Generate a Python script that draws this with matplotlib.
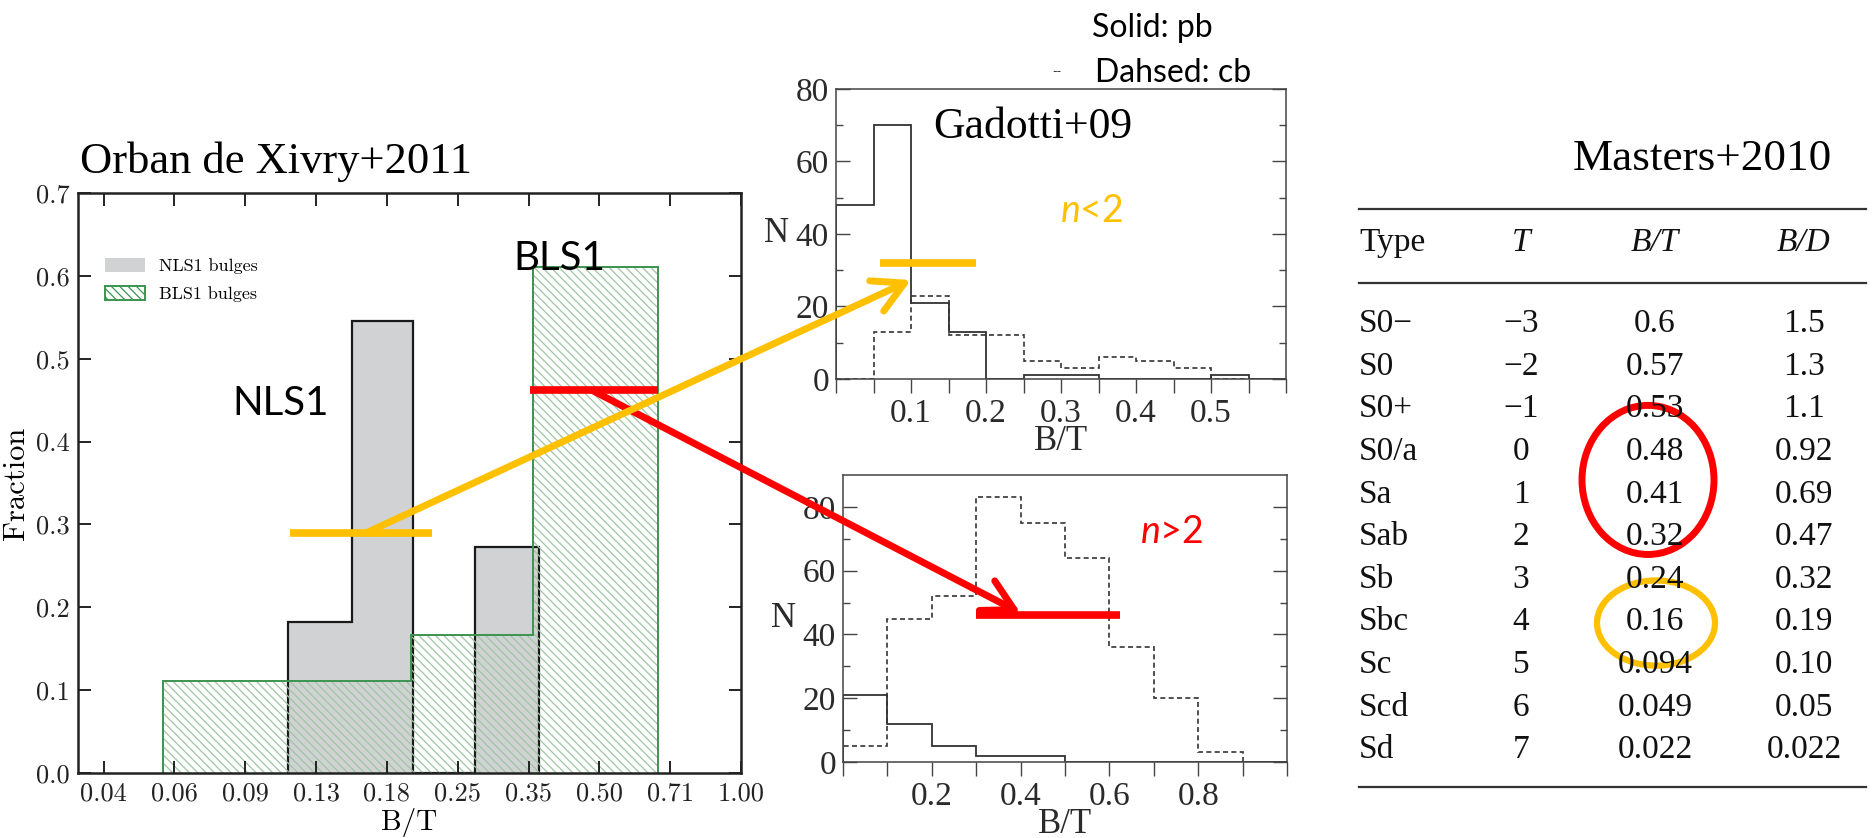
import numpy as np
import matplotlib.pyplot as plt
from matplotlib.patches import Ellipse, ConnectionPatch, Patch
from matplotlib.ticker import NullLocator, FixedLocator

plt.rcParams['hatch.linewidth'] = 0.9
plt.rcParams['mathtext.fontset'] = 'custom'
plt.rcParams['mathtext.it'] = 'Lato:italic'
plt.rcParams['mathtext.rm'] = 'Lato'

W, H = 1872, 838

# Orban de Xivry+2011 : fraction of bulges in each B/T bin
nls1_edges = [0.109, 0.149, 0.201, 0.272, 0.372]
nls1_frac = [0.182, 0.545, 0.0, 0.273]
bls1_edges = [0.059, 0.109, 0.199, 0.362, 0.667]
bls1_frac = [0.111, 0.111, 0.167, 0.611]
orban_xlabels = ['0.04', '0.06', '0.09', '0.13', '0.18', '0.25', '0.35', '0.50', '0.71', '1.00']

# Gadotti+09, n<2 : solid = pseudo-bulges, dashed = classical bulges
lo_edges = [0, 0.05, 0.1, 0.15, 0.2, 0.25, 0.3, 0.35, 0.4, 0.45, 0.5, 0.55, 0.6]
lo_pb = [48, 70, 21, 13, 0, 1, 1, 0, 0, 0, 1, 0]
lo_cb = [0, 13, 23, 12, 12, 5, 3, 6, 5, 3, 0, 0]
lo_xlabels = ['', '0.1', '0.2', '0.3', '0.4', '0.5', '']

# Gadotti+09, n>2
hi_edges = [0, 0.1, 0.2, 0.3, 0.4, 0.5, 0.6, 0.7, 0.8, 0.9, 1.0]
hi_pb = [21, 12, 5, 2, 2, 0, 0, 0, 0, 0]
hi_cb = [5, 45, 52, 83, 75, 64, 36, 20, 3, 0]
hi_xlabels = ['', '0.2', '0.4', '0.6', '0.8', '']

# Masters+2010 table
types = ['S0−', 'S0', 'S0+', 'S0/a', 'Sa', 'Sab', 'Sb', 'Sbc', 'Sc', 'Scd', 'Sd']
t_vals = ['−3', '−2', '−1', '0', '1', '2', '3', '4', '5', '6', '7']
bt_vals = ['0.6', '0.57', '0.53', '0.48', '0.41', '0.32', '0.24', '0.16', '0.094', '0.049', '0.022']
bd_vals = ['1.5', '1.3', '1.1', '0.92', '0.69', '0.47', '0.32', '0.19', '0.10', '0.05', '0.022']

# B/T ranges marked by the coloured bars
low_n_orban = [0.11, 0.22]
low_n_orban_y = 0.29
low_n_gad = [0.059, 0.187]
low_n_gad_y = 32
high_n_orban = [0.357, 0.667]
high_n_orban_y = 0.462
high_n_gad = [0.30, 0.624]
high_n_gad_y = 46

YEL = '#ffc000'
RED = '#ff0000'


def box(x0, y0, x1, y1):
    # pixel box (origin top left) -> figure rect
    return [x0 / W, 1 - y1 / H, (x1 - x0) / W, (y1 - y0) / H]


def ftext(px, py, s, **kw):
    return fig.text(px / W, 1 - py / H, s, **kw)


fig = plt.figure(figsize=(W / 100, H / 100), dpi=100)

# ---------- left panel ----------
ax_l = fig.add_axes(box(78, 193, 741, 773))
ax_l.stairs(nls1_frac, nls1_edges, fill=True, facecolor='#d1d2d4',
            edgecolor='#1a1a1a', lw=1.6)
ax_l.stairs(bls1_frac, bls1_edges, fill=True, facecolor='none',
            edgecolor='#9cc6a2', hatch='\\\\\\\\', lw=0)
ax_l.stairs(bls1_frac, bls1_edges, color='#3d9450', lw=1.4)

ax_l.set_xscale('log', base=2)
ax_l.set_xlim(0.039, 1.0)
ax_l.set_ylim(0, 0.7)
ax_l.set_xticks([2 ** (-4.5 + 0.5 * k) for k in range(10)], orban_xlabels)
ax_l.xaxis.set_minor_locator(NullLocator())
ax_l.set_yticks(np.arange(0, 0.71, 0.1))
ax_l.set_yticklabels(['%.1f' % v for v in np.arange(0, 0.71, 0.1)])
ax_l.tick_params(direction='in', length=9, width=1.4, top=True, right=True,
                 labelsize=19, labelfontfamily='cmr10', colors='#222222', pad=6)
for s in ax_l.spines.values():
    s.set_linewidth(1.8)
    s.set_color('#222222')
ax_l.set_xlabel('B/T', fontfamily='cmr10', fontsize=21, labelpad=2)
ax_l.set_ylabel('Fraction', fontfamily='cmr10', fontsize=22, labelpad=4)

leg = ax_l.legend(handles=[Patch(facecolor='#d1d2d4', edgecolor='none', label='NLS1 bulges'),
                           Patch(facecolor='white', edgecolor='#3d9450', hatch='\\\\\\\\',
                                 lw=1.4, label='BLS1 bulges')],
                  loc='upper left', bbox_to_anchor=(0.041, 0.888), frameon=False,
                  prop={'family': 'cmr10', 'size': 13}, handlelength=2.2,
                  handleheight=0.8, handletextpad=0.8, labelspacing=0.65,
                  borderpad=0, borderaxespad=0)

# ---------- Gadotti n<2 ----------
ax_t = fig.add_axes(box(836, 89, 1286, 379))
ax_t.stairs(lo_pb, lo_edges, color='#333333', lw=1.3)
ax_t.stairs(lo_cb, lo_edges, color='#333333', lw=1.2, linestyle=(0, (3, 2)))
ax_t.set_xlim(0, 0.6)
ax_t.set_ylim(0, 80)
ax_t.set_xticks(lo_edges[::2], lo_xlabels)
ax_t.xaxis.set_minor_locator(FixedLocator(lo_edges[1::2]))

# ---------- Gadotti n>2 ----------
ax_b = fig.add_axes(box(843, 475, 1287, 762))
ax_b.stairs(hi_pb, hi_edges, color='#333333', lw=1.3)
ax_b.stairs(hi_cb, hi_edges, color='#333333', lw=1.2, linestyle=(0, (3, 2)))
ax_b.set_xlim(0, 1.0)
ax_b.set_ylim(0, 90)
ax_b.set_xticks(hi_edges[::2], hi_xlabels)
ax_b.xaxis.set_minor_locator(FixedLocator(hi_edges[1::2]))

for ax in (ax_t, ax_b):
    ax.set_yticks([0, 20, 40, 60, 80])
    ax.yaxis.set_minor_locator(FixedLocator([10, 30, 50, 70]))
    ax.tick_params(axis='y', which='both', direction='in', left=True, right=True,
                   width=1.0, color='#444444', pad=5)
    ax.tick_params(axis='y', which='major', length=10)
    ax.tick_params(axis='y', which='minor', length=5)
    ax.tick_params(axis='x', which='both', direction='out', length=10, width=1.0,
                   color='#444444', pad=4)
    ax.tick_params(labelsize=24, labelfontfamily='Liberation Serif',
                   labelcolor='#2a2a2a')
    for s in ax.spines.values():
        s.set_linewidth(1.1)
        s.set_color('#444444')
    ax.set_xlabel('B/T', fontfamily='Liberation Serif', fontsize=25,
                  color='#2a2a2a', labelpad=-2.5)
    ax.set_ylabel('N', fontfamily='Liberation Serif', fontsize=25, rotation=0,
                  color='#2a2a2a', ha='right', va='center', labelpad=5)

# ---------- Masters table ----------
ax_tab = fig.add_axes(box(1340, 190, 1872, 800))
ax_tab.set_xlim(1340, 1872)
ax_tab.set_ylim(11.174, -3.146)
ax_tab.axis('off')
col_type, col_t, col_bt, col_bd = 1359, 1521, 1655, 1804
tab_font = dict(fontfamily='Liberation Serif', fontsize=24, va='center', color='#111111')
for y in (-2.70, -0.96, 10.87):
    ax_tab.plot([1359, 1866], [y, y], color='#333333', lw=1.6)
ax_tab.text(col_type, -1.9, 'Type', ha='left', **tab_font)
ax_tab.text(col_t, -1.9, 'T', ha='center', fontstyle='italic', **tab_font)
ax_tab.text(col_bt, -1.9, 'B/T', ha='center', fontstyle='italic', **tab_font)
ax_tab.text(col_bd, -1.9, 'B/D', ha='center', fontstyle='italic', **tab_font)
for i in range(len(types)):
    ax_tab.text(col_type, i, types[i], ha='left', **tab_font)
    ax_tab.text(col_t, i, t_vals[i], ha='center', **tab_font)
    ax_tab.text(col_bt, i, bt_vals[i], ha='center', **tab_font)
    ax_tab.text(col_bd, i, bd_vals[i], ha='center', **tab_font)

ax_tab.add_patch(Ellipse((1648, 3.66), 132, 3.5, fill=False, ec=RED, lw=5))
ax_tab.add_patch(Ellipse((1656, 7.02), 118, 2.0, fill=False, ec=YEL, lw=4.5))

# ---------- markers and arrows ----------
ax_l.plot(low_n_orban, [low_n_orban_y] * 2, color=YEL, lw=5.5, solid_capstyle='butt', clip_on=False)
ax_l.plot(high_n_orban, [high_n_orban_y] * 2, color=RED, lw=5.5, solid_capstyle='butt', clip_on=False)
ax_t.plot(low_n_gad, [low_n_gad_y] * 2, color=YEL, lw=5.5, solid_capstyle='butt', clip_on=False)
ax_b.plot(high_n_gad, [high_n_gad_y] * 2, color=RED, lw=5.5, solid_capstyle='butt', clip_on=False)

red_arrow = ConnectionPatch(xyA=(0.482, high_n_orban_y), coordsA=ax_l.transData,
                            xyB=(0.40, 46.7), coordsB=ax_b.transData,
                            arrowstyle='->,head_length=1.1,head_width=0.6',
                            mutation_scale=20, color=RED, lw=5, shrinkA=0, shrinkB=0,
                            zorder=5)
fig.add_artist(red_arrow)
yel_arrow = ConnectionPatch(xyA=(0.160, low_n_orban_y), coordsA=ax_l.transData,
                            xyB=(0.1, 27.3), coordsB=ax_t.transData,
                            arrowstyle='->,head_length=1.1,head_width=0.6',
                            mutation_scale=20, color=YEL, lw=5, shrinkA=0, shrinkB=0,
                            zorder=6)
fig.add_artist(yel_arrow)

# ---------- annotations ----------
ftext(80, 173, 'Orban de Xivry+2011', fontfamily='Liberation Serif', fontsize=32, va='baseline')
ftext(933, 138, 'Gadotti+09', fontfamily='Liberation Serif', fontsize=31.5, va='baseline')
ftext(1573, 170, 'Masters+2010', fontfamily='Liberation Serif', fontsize=32.5, va='baseline')
ftext(1092, 37, 'Solid: pb', fontfamily='Lato', fontsize=23, va='baseline')
ftext(1095, 82, 'Dahsed: cb', fontfamily='Lato', fontsize=23, va='baseline')
ftext(1052, 72, '--', fontfamily='Lato', fontsize=9, va='center', color='#333333')
ftext(232, 415, 'NLS1', fontfamily='Lato', fontsize=29, va='baseline')
ftext(513, 270, 'BLS1', fontfamily='Lato', fontsize=29, va='baseline')
ftext(1060, 222, r'$n$<2', fontfamily='Lato', fontsize=27, va='baseline', color=YEL)
ftext(1140, 543, r'$n$>2', fontfamily='Lato', fontsize=27, va='baseline', color=RED)

fig.savefig('out.png', dpi=100)
